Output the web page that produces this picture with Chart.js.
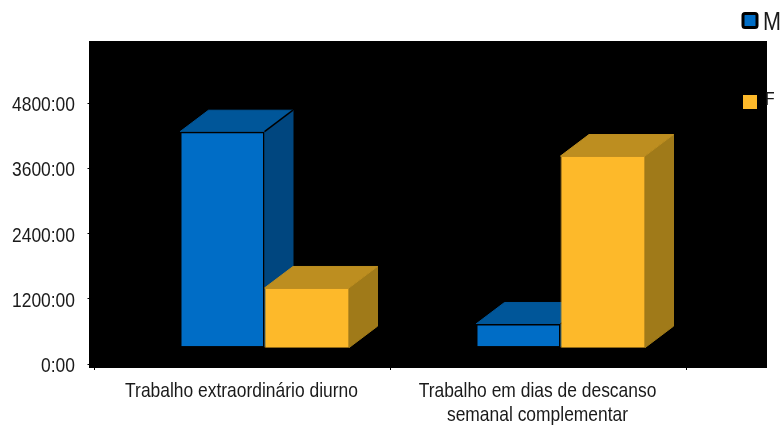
<!DOCTYPE html>
<html>
<head>
<meta charset="utf-8">
<script src="https://cdn.jsdelivr.net/npm/chart.js@4"></script>
<style>
  body { margin: 0; background: #fff; }
  canvas { display: block; }
</style>
</head>
<body>
<canvas id="myChart" width="780" height="427"></canvas>
<script>
// -------------------
// DATA

const categories = [
  "Trabalho extraordinário diurno",
  ["Trabalho em dias de descanso", "semanal complementar"],
];
const seriesM = [4272, 736];
const seriesF = [1398, 3825];
const yTicks = [0, 1200, 2400, 3600, 4800];

// the bars float a little above the zero tick in the original 3D view
const baseM = 325;
const baseF = 300;

// -------------------
// 3D LOOK

const depthX = 28.5;
const depthY = 21.5;
const barShift = 22;
const textColor = "#1a1a1a";
const squeeze = 0.83; // the original text is horizontally condensed

const faces = {
  M: { front: "#006dc6", top: "#005699", side: "#00467f", edge: "#000000" },
  F: { front: "#fdb92a", top: "#bd8e20", side: "#a07a19", edge: "#a07a19" },
};

function polygon(ctx, points, fill, stroke) {
  ctx.beginPath();
  points.forEach((p, i) => (i ? ctx.lineTo(p[0], p[1]) : ctx.moveTo(p[0], p[1])));
  ctx.closePath();
  ctx.fillStyle = fill;
  ctx.fill();
  ctx.strokeStyle = stroke;
  ctx.lineWidth = 1;
  ctx.stroke();
}

function squeezedText(ctx, text, x, y, size, align) {
  ctx.save();
  ctx.translate(x, y);
  ctx.scale(squeeze, 1);
  ctx.font = `${size}px 'Liberation Sans'`;
  ctx.textAlign = align;
  ctx.textBaseline = "alphabetic";
  ctx.fillStyle = textColor;
  ctx.fillText(text, 0, 0);
  ctx.restore();
}

const boxPlugin = {
  id: "box",
  // black panel behind everything
  beforeDraw(chart) {
    const a = chart.chartArea;
    chart.ctx.fillStyle = "#000";
    chart.ctx.fillRect(a.left - 5.5, a.top - 62, a.width + 86, a.height + 66);
  },
  // move the fronts right, the axis labels stay centred on their category
  afterDatasetsUpdate(chart) {
    chart.data.datasets.forEach((ds, i) => {
      chart.getDatasetMeta(i).data.forEach(bar => (bar.x += barShift));
    });
  },
  // top and side faces go under the library's front faces
  beforeDatasetsDraw(chart) {
    const ctx = chart.ctx;
    chart.data.datasets.forEach((ds, i) => {
      const c = faces[ds.label];
      chart.getDatasetMeta(i).data.forEach(bar => {
        const l = bar.x - bar.width / 2;
        const r = bar.x + bar.width / 2;
        const t = bar.y;
        const b = bar.base;
        polygon(ctx, [[r, t], [r + depthX, t - depthY], [r + depthX, b - depthY], [r, b]], c.side, c.side);
        polygon(ctx, [[l, t], [l + depthX, t - depthY], [r + depthX, t - depthY], [r, t]], c.top, c.top);
        if (ds.label === "M") {
          ctx.strokeStyle = c.edge;
          ctx.lineWidth = 1.5;
          ctx.beginPath();
          ctx.moveTo(r, t);
          ctx.lineTo(r + depthX, t - depthY);
          ctx.stroke();
        }
      });
    });
  },
  afterDraw(chart) {
    const ctx = chart.ctx;

    // tick labels, condensed, so the library's own label drawing is off
    const { x, y } = chart.scales;
    y.ticks.forEach((tick, i) => {
      squeezedText(ctx, tick.label, 75, y.getPixelForTick(i) + 8, 21, "right");
    });
    x.ticks.forEach((tick, i) => {
      const lines = [].concat(tick.label);
      lines.forEach((line, n) => {
        squeezedText(ctx, line, x.getPixelForTick(i) - 1, 397 + n * 24, 21, "center");
      });
    });

    // legend sits in the top right corner, partly cut by the page edge
    ctx.beginPath();
    ctx.roundRect(743, 13.5, 14, 14, 2);
    ctx.fillStyle = faces.M.front;
    ctx.fill();
    ctx.strokeStyle = "#000";
    ctx.lineWidth = 3;
    ctx.stroke();
    ctx.fillStyle = faces.F.front;
    ctx.fillRect(743, 95, 14, 14);
    squeezedText(ctx, chart.data.datasets[0].label, 763, 30, 26, "left");
    squeezedText(ctx, chart.data.datasets[1].label, 765, 105, 19, "left");
  },
};

// -------------------
// CHART

const canvasHTML = document.getElementById("myChart");
const myChart = new Chart(canvasHTML, {
  type: "bar",
  data: {
    labels: categories,
    datasets: [
      {
        label: "M",
        data: seriesM,
        base: baseM,
        backgroundColor: faces.M.front,
        borderColor: "#000",
        borderWidth: 1.5,
      },
      {
        label: "F",
        data: seriesF,
        base: baseF,
        backgroundColor: faces.F.front,
        borderColor: "#c08e20",
        borderWidth: 1,
      },
    ],
  },
  options: {
    responsive: false,
    animation: false,
    layout: { padding: { top: 103, right: 93.5 } },
    datasets: { bar: { categoryPercentage: 0.571, barPercentage: 1 } },
    plugins: { legend: { display: false }, tooltip: { enabled: false } },
    scales: {
      x: {
        afterFit: scale => { scale.height = 63; },
        grid: { drawOnChartArea: false, color: "#000", tickLength: 6 },
        border: { color: "#000" },
        ticks: { display: false, autoSkip: false },
      },
      y: {
        min: 0,
        max: 4800,
        afterFit: scale => { scale.width = 94.5; },
        afterBuildTicks: scale => { scale.ticks = yTicks.map(v => ({ value: v })); },
        grid: { drawOnChartArea: false, color: "#000", tickLength: 7 },
        border: { color: "#000" },
        ticks: { display: false, callback: v => `${v}:00` },
      },
    },
  },
  plugins: [boxPlugin],
});
</script>
</body>
</html>
